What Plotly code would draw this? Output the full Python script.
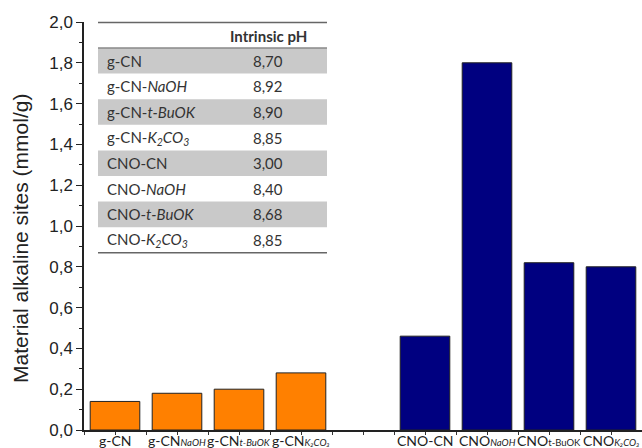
import plotly.graph_objects as go

# ---- data ----
def sub(t, italic=True):
    inner = f'<span style="font-size:9.5px">{t}</span>'
    if italic:
        inner = f"<i>{inner}</i>"
    return inner

gcn_labels = ["g-CN", "g-CN" + sub("NaOH"), "g-CN" + sub("t-BuOK"), "g-CN" + sub("K₂CO₃")]
cno_labels = ["CNO-CN", "CNO" + sub("NaOH"), "CNO" + sub("t-BuOK", italic=False),
              "CNO" + sub("K₂CO₃")]
gcn_values = [0.14, 0.18, 0.20, 0.28]
cno_values = [0.46, 1.80, 0.82, 0.80]
gcn_pos = [0, 1, 2, 3]
cno_pos = [5, 6, 7, 8]

table_names = ["g-CN", "g-CN-<i>NaOH</i>", "g-CN-<i>t-BuOK</i>",
               "g-CN-<i>K<sub>2</sub>CO<sub>3</sub></i>", "CNO-CN",
               "CNO-<i>NaOH</i>", "CNO-<i>t-BuOK</i>",
               "CNO-<i>K<sub>2</sub>CO<sub>3</sub></i>"]
table_ph = ["8,70", "8,92", "8,90", "8,85", "3,00", "8,40", "8,68", "8,85"]
yticks = [0.0, 0.2, 0.4, 0.6, 0.8, 1.0, 1.2, 1.4, 1.6, 1.8, 2.0]

W, H = 642, 448
L, R, T, B = 84, 0, 22, 18

fig = go.Figure()
fig.add_trace(go.Bar(x=gcn_pos, y=gcn_values, width=0.8,
                     marker=dict(color="#FF8000", line=dict(color="#222222", width=1))))
fig.add_trace(go.Bar(x=cno_pos, y=cno_values, width=0.8,
                     marker=dict(color="#000080", line=dict(color="#222222", width=1))))

pw = W - L - R
ph = H - T - B
def px(x):
    return (x - L) / pw
def py(y):
    return (H - B - y) / ph

# x category labels
for pos, lab in zip(gcn_pos + cno_pos, gcn_labels + cno_labels):
    fig.add_annotation(xref="x", yref="paper", x=pos, y=py(441), text=lab,
                       showarrow=False, xanchor="center", yanchor="middle",
                       font=dict(family="Lato", size=14, color="#222222"))

# y title
fig.add_annotation(xref="paper", yref="paper", x=px(20), y=py(239),
                   text="Material alkaline sites (mmol/g)", textangle=-90,
                   showarrow=False, xanchor="center", yanchor="middle",
                   font=dict(family="Liberation Sans", size=21, color="#222222"))

# ---- inset table ----
tx0, tx1 = 98, 327
row_top = 48
row_h = 25.6
shapes = []
for i in range(len(table_names)):
    y0 = row_top + i * row_h
    if i % 2 == 0:
        shapes.append(dict(type="rect", xref="paper", yref="paper",
                           x0=px(tx0), x1=px(tx1), y0=py(y0 + row_h), y1=py(y0),
                           fillcolor="#C9C9C9", line=dict(width=0), layer="below"))
    fig.add_annotation(xref="paper", yref="paper", x=px(105), y=py(y0 + row_h / 2),
                       text=table_names[i], showarrow=False, xanchor="left", yanchor="middle",
                       font=dict(family="Lato", size=15, color="#333333"))
    fig.add_annotation(xref="paper", yref="paper", x=px(268), y=py(y0 + row_h / 2),
                       text=table_ph[i], showarrow=False, xanchor="center", yanchor="middle",
                       font=dict(family="Lato", size=15, color="#333333"))
fig.add_annotation(xref="paper", yref="paper", x=px(268), y=py(36),
                   text="<b>Intrinsic pH</b>", showarrow=False, xanchor="center", yanchor="middle",
                   font=dict(family="Lato", size=15, color="#333333"))
bottom = row_top + len(table_names) * row_h
for yy, c in [(22.6, "#666666"), (row_top, "#888888"), (bottom, "#666666")]:
    shapes.append(dict(type="line", xref="paper", yref="paper",
                       x0=px(tx0), x1=px(tx1), y0=py(yy), y1=py(yy),
                       line=dict(color=c, width=1.5)))

fig.update_layout(
    width=W, height=H, margin=dict(l=L, r=R, t=T, b=B),
    paper_bgcolor="white", plot_bgcolor="white",
    showlegend=False, separators=",.", shapes=shapes,
    xaxis=dict(range=[-0.5, 8.5], tickmode="array", automargin=False,
               tickvals=gcn_pos + cno_pos, showticklabels=False,
               ticks="outside", ticklen=3, tickcolor="#333333",
               minor=dict(dtick=0.5, tick0=0.5, ticks="outside", ticklen=3, tickcolor="#333333"),
               showline=True, linecolor="#222222", linewidth=1.5, showgrid=False,
               zeroline=False),
    yaxis=dict(range=[0, 2.0], tickmode="array", tickvals=yticks, tickformat=".1f",
               automargin=False,
               ticks="outside", ticklen=6, tickcolor="#222222",
               minor=dict(dtick=0.1, ticks="outside", ticklen=3, tickcolor="#222222"),
               showline=True, linecolor="#222222", linewidth=1.5, showgrid=False,
               zeroline=False, tickfont=dict(family="Liberation Sans", size=17, color="#222222")),
)

fig.write_html("out.html")
